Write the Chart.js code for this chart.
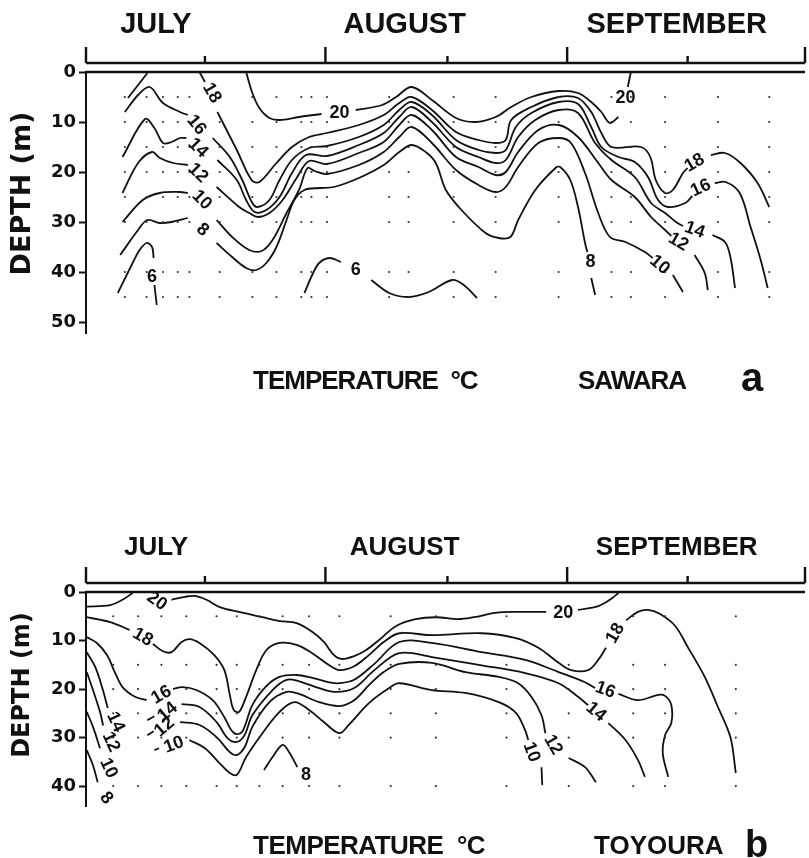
<!DOCTYPE html>
<html>
<head>
<meta charset="utf-8">
<script src="https://cdn.jsdelivr.net/npm/chart.js@4.4.1/dist/chart.umd.min.js"></script>
<style>
html, body { margin: 0; padding: 0; background: #fff; }
#wrap { position: relative; width: 809px; height: 858px; overflow: hidden; }
canvas { position: absolute; left: 0; top: 0; }
.cap { position: absolute; font-family: "Liberation Sans", Arial, sans-serif; font-weight: bold; color: #111; white-space: nowrap; line-height: 1; }
</style>
</head>
<body>
<div id="wrap">
  <canvas id="chartA" width="809" height="858"></canvas>
  <canvas id="chartB" width="809" height="858"></canvas>
  <div class="cap" style="left:253px;top:367px;font-size:26px;letter-spacing:-1px">TEMPERATURE&nbsp;&nbsp;°C</div>
  <div class="cap" style="left:578px;top:367px;font-size:26px;letter-spacing:-1px">SAWARA</div>
  <div class="cap" style="left:741px;top:357px;font-size:40px">a</div>
  <div class="cap" style="left:253px;top:832px;font-size:26px;letter-spacing:-0.5px">TEMPERATURE&nbsp;&nbsp;°C</div>
  <div class="cap" style="left:594px;top:832px;font-size:26px">TOYOURA</div>
  <div class="cap" style="left:745px;top:825px;font-size:38px">b</div>
</div>
<script>
// x values are days from 1 July, y values are depth in m

const months = ['JULY', 'AUGUST', 'SEPTEMBER'];
const monthDays = [9, 41, 76];
const halfMonthTicks = [0, 15.3, 30.8, 46.5, 61.9, 77.4, 92.5];
const depthTicksA = [0, 10, 20, 30, 40, 50];
const depthTicksB = [0, 10, 20, 30, 40];

// station days and sample depths (the small dots)
const stationsA = [5.0, 7.8, 9.9, 11.8, 13.3, 17.2, 21.4, 24.5, 27.7, 29, 31, 39, 41.5, 47.3, 52.7, 60.8, 67.6, 70.1, 74.5, 81.3, 87.9];
const sampleDepthsA = [5, 10, 15, 20, 25, 30, 40, 45];
const stationsB = [3.5, 6.7, 9.7, 12.9, 16.8, 19.4, 22.3, 25.3, 28.7, 32.6, 39.2, 45, 54.1, 62.1, 70.4, 74.5, 83.6];
const sampleDepthsB = [5, 15, 20, 25, 30, 40];

// ---- Sawara isotherms, each a list of segments of [day, depth]
const a20 = [
  [[20.6,0],[21.4,4.2],[22.3,7.2],[23.6,9.2],[24.9,9.6],[27.4,9],[30.3,8.4]],
  [[34.7,7.6],[38.1,6.6],[39.9,5],[41.9,3],[44.5,5.6],[47.6,9.2],[50.1,10],[52.7,9],[54.7,7],[57.3,5],[60.8,3.8],[63.3,4.2],[65,6],[66.3,8],[67.4,10.2],[68.5,9]],
  [[69.7,3],[70.1,0]]
];
const a18 = [
  [[5.4,5.2],[6.7,2.6],[7.9,0.2]],
  [[14.6,0],[15.3,2]],
  [[16.9,8],[19.4,15.6],[21.3,21.6],[22.3,22],[24.5,18.2],[26.5,15],[28.7,13],[31,12.2],[35.1,10.6],[38.3,8.6],[40.3,6.2],[41.9,5],[44.5,7.6],[47.6,12],[50.5,13.6],[52.7,14.2],[54,13.6],[54.7,9.6],[57.3,7],[60.8,5],[63.3,5.2],[65,8],[66.3,12.2],[67.6,15],[71.4,15],[72.6,17],[73.3,21.6],[74.5,24.2],[75.5,23.6],[76.8,20.2],[77.4,19.2]],
  [[80.4,16.6],[82.2,16.2],[84.2,18.2],[86.4,22.2],[87.9,27]]
];
const a16 = [
  [[5,8],[6.7,4.6],[8.2,3],[9.9,6.2],[12.1,8],[13.1,8.6]],
  [[16.3,13.2],[18.5,17],[20.1,21.6],[21.4,26.2],[22.1,27],[23.6,25.6],[24.9,21.6],[26.5,17.6],[28.7,15.2],[31,14.8],[35.1,13],[38.3,10.6],[40.3,7.6],[41.9,6],[44.5,8.6],[47.6,13.6],[50.5,15.6],[52.7,16.2],[54,15.6],[55.3,11],[57.3,8.2],[60.8,6],[63.3,6.4],[65,11],[66.3,15],[68.5,17],[70.6,18],[72.3,21],[73.6,25.6],[74.9,27],[77.1,26.2],[78,24.8]],
  [[80.9,22.2],[82.3,22],[84.1,24.2],[85.5,31],[86.8,37.6],[87.7,43.2]]
];
const a14 = [
  [[4.7,17],[7.6,9.4],[8.8,11.2],[9.9,14.2],[11,14],[12.1,13.2],[12.9,13.2]],
  [[16.9,17.6],[19.4,21.6],[20.6,25.6],[21.7,28],[23.2,27.6],[24.9,25],[26.5,20.2],[28.3,16.6],[31,16.8],[35.1,14.6],[38.3,12.2],[40.3,9],[41.9,7],[44.5,10],[47.6,15],[50.5,17],[52.7,18.2],[54,17.6],[55.6,13],[57.8,9.6],[60.8,7.6],[63.3,8.2],[65.5,14.2],[67.6,17.6],[70.6,21],[72.7,26.2],[74.5,28.2],[75.9,30],[76.8,30.8]],
  [[80.6,32.6],[82.2,34],[82.9,37],[83.5,43.2]]
];
const a12 = [
  [[4.7,24.2],[6.7,18.2],[8.5,16],[9.5,17.2],[11.2,18.2],[13.1,18.6]],
  [[16.8,23],[19.7,27],[21,28.2],[22.1,29],[23.6,28.2],[25.3,25.6],[27.1,21.2],[28.7,17.8],[31,18.4],[35.1,16.2],[38.3,14],[40.3,10.6],[41.9,8.6],[44.5,11.6],[47.6,17],[50.5,19],[52.7,20.6],[54,20],[55.6,16],[58.2,11.6],[60.8,10.6],[63.3,13],[65.9,18.2],[67.6,21.6],[70.6,25],[72.7,29],[74.5,31.6],[75.3,32.8]],
  [[78.3,36.6],[79.6,40.2],[80,43.6]]
];
const a10 = [
  [[4.7,30],[7.3,25.6],[9.5,24.2],[12.1,24],[13.1,24.2]],
  [[16.8,29.6],[18.8,33],[21,35.6],[22.6,35.8],[24,33.6],[25.8,28.2],[27.4,23.6],[28.5,19.2],[29.4,19.8],[31,20.4],[35.1,18.6],[38.3,16],[40.3,13],[41.9,11],[44.5,14.2],[47.6,19.6],[50.5,22.6],[52.7,24],[54,23],[55.6,19],[58.2,14.2],[60.8,13.2],[62.4,14.2],[64.2,20.2],[65.9,28.2],[67.4,33],[69.4,34],[71.9,36],[72.9,37.2]],
  [[75.5,40.6],[76.8,44]]
];
const a8 = [
  [[4.4,36.6],[6.7,31.6],[7.9,29.6],[9.5,30.2],[11,30],[13.1,29.2]],
  [[16.8,34.2],[18.8,37],[20.6,39.2],[21.9,39.6],[23.2,38.2],[24.5,35],[25.8,29.6],[26.8,25.6],[28.1,23.6],[30,23.2],[31.9,23],[35.1,21.2],[38.3,18.6],[40.3,16],[41.9,14.6],[43.7,16],[45,18.2],[46.3,23.6],[48.3,27.6],[51.4,32.2],[53.1,33.2],[54.6,33],[55.6,29.6],[57.8,23.6],[60.4,19.2],[61,19],[62.3,21.6],[63.3,27],[64.2,34.2],[64.5,36]],
  [[65,41.2],[65.5,44.6]]
];
const a6 = [
  [[4.1,44.2],[6,38.2],[6.9,35.6],[7.8,34.2],[8.5,35],[8.7,37.2]],
  [[8.8,42.6],[9.1,46.6]],
  [[28.1,44.2],[29.1,40.6],[30,38.2],[31.3,37.2],[32.8,38]],
  [[36.7,41.6],[39,44.2],[41.5,45],[44.1,44],[47.1,41.6],[48.6,42.6],[50.3,45.2]]
];
// [text, day, depth, angle]
const labelsA = [
  ['20',32.6,8.2,0], ['20',69.4,5.2,0],
  ['18',16.2,4.2,60], ['18',78.3,18.2,-30],
  ['16',14.2,10.6,50], ['16',79.1,23.2,-25],
  ['14',14.4,15.2,45], ['14',78.3,31.6,20],
  ['12',14.4,20.2,45], ['12',76.2,34,30],
  ['10',14.9,25.6,45], ['10',73.8,38.6,40],
  ['8',15,31.6,40], ['8',64.9,38,0],
  ['6',8.5,41,0], ['6',34.7,39.6,0]
];

// ---- Toyoura isotherms
const b20 = [
  [[0.1,3],[3.1,2.7],[4.7,1.6],[6,0.2]],
  [[11,1.6],[12.7,1],[14,0.8],[15.5,1.6],[17.2,3.1],[19.7,4.1],[22.7,5.2],[24.9,6],[27.1,6.4],[29.1,8.2],[30.6,10.3],[31.9,13],[32.9,13.8],[34.5,13.2],[36,12],[37.7,9.9],[39.9,7],[42.4,5.6],[45,5.2],[47.9,5.6],[49.9,5.2],[52.7,4.3],[55.6,4.1],[59.2,4.1]],
  [[63.3,3.7],[65.9,2.9],[67.4,1.6],[68.5,0.2]]
];
const b18 = [
  [[0.1,5.2],[3.1,6.2],[5.6,7.8]],
  [[8.6,10.7],[9.9,12.2],[11,12.4],[12.3,10.3],[13.3,9.7],[14.6,10.5],[16.5,13],[17.8,16.1],[18.5,21.2],[19,24.3],[19.7,24.7],[20.6,21.6],[21.9,16.1],[23.2,12],[24.9,10.5],[27.1,10.9],[29.1,12.6],[31.3,15.1],[32.6,16.1],[34.5,15.3],[36.4,13],[38.3,10.3],[40.3,8.5],[44.5,8.9],[50.9,8.5],[55.3,9.5],[58.2,11.5],[60.8,14.6],[62.4,16.1],[64.6,16.1],[65.9,14],[66.9,11.5]],
  [[69.5,5.8],[71,4.1],[72.3,3.7],[73.8,4.5],[75.8,7],[77.4,11.3],[79.6,17.5],[81.3,23.7],[82.9,29.9],[83.6,37.3]]
];
const b16 = [
  [[0.1,9.3],[1.4,10.5],[2.7,13],[3.7,16.5],[4.7,19.6],[6.3,21.6],[7.8,22.3]],
  [[11.2,20],[12.4,19.6],[14.2,20.2],[16.3,22.3],[17.8,25.8],[18.7,28.5],[19.4,29.3],[20.2,28.5],[21.4,23.3],[23.2,19.4],[24.9,17.5],[27.1,17.1],[29.1,17.7],[31.3,18.6],[32.6,18.8],[34.5,18.1],[37.1,14.8],[40.3,10.3],[44.5,10.5],[50.9,12.4],[56.5,14],[60.8,16.5],[64.2,18.6],[65.5,19.8]],
  [[68.5,21],[71,22.3],[73.6,21.2],[74.5,21.4],[75.3,23.3],[75.3,27],[74.5,29.5],[74.2,33.2],[74.9,38.1]]
];
const b14 = [
  [[0.1,12.4],[1.2,15.5],[2.1,19.8],[2.8,23.9]],
  [[7.9,26.4],[8.8,25.6]],
  [[12.3,23.1],[14.6,23.7],[16.8,26.8],[18.2,30.1],[19.4,30.9],[20.4,29.5],[21.4,25.4],[24,20.2],[25.8,18.1],[27.4,18.4],[30,19.8],[32.2,20.6],[34.5,19.8],[37.1,16.1],[40.3,12.6],[44.5,13.4],[50.9,15.1],[56.5,16.7],[60.8,18.8],[63.3,21.6],[64.6,23.3]],
  [[67.2,27],[69.4,30.5],[71,34.6],[71.9,38.1]]
];
const b12 = [
  [[0.1,16.5],[0.9,20.2],[1.8,24.7],[2.2,27.5]],
  [[7.9,29.5],[8.7,28.7]],
  [[12.1,26.8],[14.6,27.4],[16.8,29.9],[18.5,33],[19.4,33.6],[20.4,32],[21.4,27.8],[23.6,22.7],[25.8,20.6],[27.4,21],[30,22.7],[32.6,23.5],[34.5,22.3],[36.4,19.2],[38.3,16.5],[40.3,14.8],[44.5,14.6],[48.8,16.5],[53.1,17.5],[55.6,18.8],[57.3,21.6],[58.6,25.4],[59.1,29.1]],
  [[62.1,34.2],[64.2,36.1],[65.6,39.2]]
];
const b10 = [
  [[0.1,24.7],[0.9,27.8],[1.8,32.2]],
  [[8.8,32.6],[9.4,32.2]],
  [[13.3,30.5],[15.3,32.2],[17.2,35.3],[18.5,37.3],[19.4,37.7],[20.6,34],[22.7,29.1],[24.9,24.7],[26.8,22.7],[28.7,24.3],[30.6,26.8],[32.6,29.1],[33.8,27.4],[36.4,22.9],[39,19.8],[40.3,18.8],[44.5,20.2],[48.8,20.8],[53.1,22.7],[55.3,24.9],[56.5,28.5],[56.9,30.5]],
  [[58.6,36.1],[58.7,39.8]]
];
const b8 = [
  [[0.1,32.6],[0.9,35.7],[1.5,39.2]],
  [[22.9,36.7],[24,34],[25.3,31.5],[26.2,33.2],[27.2,36.1]]
];
const labelsB = [
  ['20',9.1,1.9,35], ['20',61.4,4.3,0],
  ['18',7.3,9.3,30], ['18',68.1,8.5,-60],
  ['16',9.7,21.2,-30], ['16',66.8,20.2,20],
  ['14',3.8,26.8,65], ['14',10.5,24.7,-40], ['14',65.6,24.7,40],
  ['12',3.2,30.9,65], ['12',10.1,27.8,-40], ['12',60.1,31.5,60],
  ['10',2.9,36.3,65], ['10',11.3,31.5,-20], ['10',57.3,33,70],
  ['8',2.6,42.5,50], ['8',28.3,37.7,0]
];

const INK = '#111';

function contourSets(groups) {
  const sets = [];
  groups.forEach(segs => segs.forEach(seg => {
    sets.push({
      data: seg.map(p => ({ x: p[0], y: p[1] })),
      showLine: true,
      borderColor: INK,
      borderWidth: 1.8,
      pointRadius: 0,
      tension: 0.35,
      fill: false
    });
  }));
  return sets;
}

function dotSet(stations, depths) {
  const pts = [];
  stations.forEach(d => depths.forEach(z => pts.push({ x: d, y: z })));
  return { data: pts, showLine: false, pointRadius: 1.1, pointBackgroundColor: '#333', pointBorderWidth: 0 };
}

// top month axis, frame line, depth title and isotherm labels
const panelDecor = {
  id: 'panelDecor',
  afterDraw(chart, args, opts) {
    const { ctx, chartArea: a, scales: { x, y } } = chart;
    ctx.save();
    ctx.strokeStyle = INK;
    ctx.lineWidth = 2.4;
    ctx.beginPath();
    ctx.moveTo(a.left, a.top);
    ctx.lineTo(a.right, a.top);
    ctx.stroke();

    const ay = a.top - opts.gap;
    ctx.beginPath();
    ctx.moveTo(a.left, ay);
    ctx.lineTo(a.right, ay);
    halfMonthTicks.forEach((d, i) => {
      const px = x.getPixelForValue(d);
      ctx.moveTo(px, ay);
      ctx.lineTo(px, ay - (i % 2 ? 7 : 16));
    });
    ctx.stroke();

    ctx.fillStyle = INK;
    ctx.textAlign = 'center';
    ctx.textBaseline = 'middle';
    ctx.font = 'bold ' + opts.monthSize + 'px "Liberation Sans", Arial, sans-serif';
    months.forEach((m, i) => ctx.fillText(m, x.getPixelForValue(monthDays[i]), a.top - opts.monthOffset));

    // axis title
    ctx.save();
    ctx.translate(23, (a.top + a.bottom) / 2 - opts.titleShift);
    ctx.rotate(-Math.PI / 2);
    ctx.font = 'bold ' + opts.titleSize + 'px "DejaVu Sans", sans-serif';
    ctx.fillText('DEPTH (m)', 0, 0);
    ctx.restore();

    ctx.font = 'bold 18px "Liberation Sans", Arial, sans-serif';
    opts.labels.forEach(l => {
      ctx.save();
      ctx.translate(x.getPixelForValue(l[1]), y.getPixelForValue(l[2]));
      ctx.rotate(l[3] * Math.PI / 180);
      ctx.fillText(l[0], 0, 0);
      ctx.restore();
    });
    ctx.restore();
  }
};

function makePanel(id, groups, stations, depths, labels, yTicks, yMax, pad, deco) {
  return new Chart(document.getElementById(id), {
    type: 'scatter',
    data: { datasets: [dotSet(stations, depths)].concat(contourSets(groups)) },
    options: {
      responsive: false,
      animation: false,
      layout: { padding: pad },
      plugins: {
        legend: { display: false },
        tooltip: { enabled: false },
        panelDecor: Object.assign({ labels: labels }, deco)
      },
      scales: {
        x: { type: 'linear', display: false, min: 0, max: 92.5 },
        y: {
          type: 'linear',
          reverse: true,
          min: 0,
          max: yMax,
          afterBuildTicks: s => { s.ticks = yTicks.map(v => ({ value: v })); },
          afterFit: s => { s.width = 86; },
          border: { display: true, color: INK, width: 2 },
          grid: { drawOnChartArea: false, drawTicks: true, tickLength: 7, tickColor: INK, tickWidth: 2 },
          ticks: { color: INK, padding: 3, font: { family: 'DejaVu Sans', weight: 'bold', size: 18 } }
        }
      }
    },
    plugins: [panelDecor]
  });
}

makePanel('chartA', [a20, a18, a16, a14, a12, a10, a8, a6], stationsA, sampleDepthsA, labelsA,
  depthTicksA, 52.2, { top: 72, bottom: 525, left: 0, right: 1 },
  { gap: 9, monthOffset: 47, monthSize: 29, titleSize: 27, titleShift: 9 });

makePanel('chartB', [b20, b18, b16, b14, b12, b10, b8], stationsB, sampleDepthsB, labelsB,
  depthTicksB, 44.1, { top: 592, bottom: 52, left: 0, right: 1 },
  { gap: 9, monthOffset: 44, monthSize: 26, titleSize: 24, titleShift: 14 });
</script>
</body>
</html>
